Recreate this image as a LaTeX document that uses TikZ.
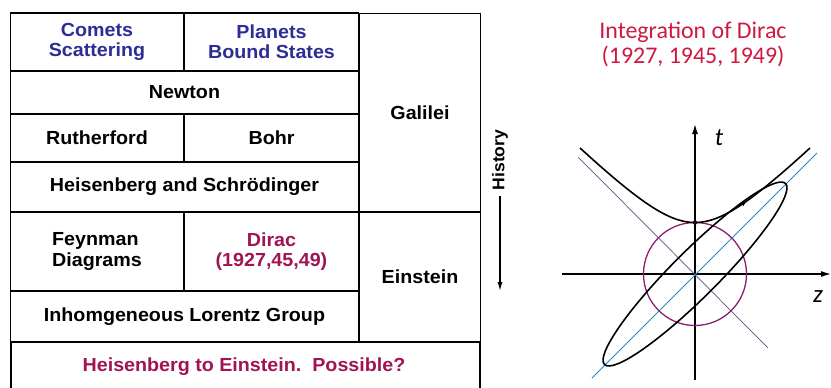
\documentclass[tikz,border=0pt]{standalone}
\usepackage{fontspec}
\setmainfont{Liberation Sans}[FakeStretch=1.04]
\newfontfamily\calfont{Carlito}
\usepackage{tikz}
\usetikzlibrary{arrows.meta,positioning,calc}
\usepackage{xcolor}
\definecolor{cometblue}{RGB}{45,45,150}
\definecolor{diracred}{RGB}{160,20,85}
\definecolor{titlered}{RGB}{205,25,65}
\definecolor{circpurple}{RGB}{140,30,110}
\definecolor{antiline}{RGB}{85,80,140}
\definecolor{diagline}{RGB}{40,140,190}

\begin{document}
\begin{tikzpicture}[
  x=1bp, y=-1bp,
  cell/.style={draw, line width=1.3bp, inner sep=0pt, align=center,
    font=\bfseries\fontsize{19}{20.5}\selectfont},
  axis/.style={-{Latex[length=10bp,width=6bp]}, line width=1.3bp},
  curve/.style={line width=1.6bp},
]
\useasboundingbox (0,0) rectangle (831,387);

% 左側：表
\node[cell, minimum width=174, minimum height=58, text=cometblue] (comets) at (97,42) {Comets\\Scattering};
\node[cell, minimum width=175, minimum height=58, text=cometblue] (planets) at (271.5,42) {Planets\\Bound States};
\node[cell, minimum width=349, minimum height=43] (newton) at (184.5,92.5) {Newton};
\node[cell, minimum width=174, minimum height=48] (rutherford) at (97,138) {Rutherford};
\node[cell, minimum width=175, minimum height=48] (bohr) at (271.5,138) {Bohr};
\node[cell, minimum width=349, minimum height=50] (heisenberg) at (184.5,187) {Heisenberg and Schrödinger};
\node[cell, minimum width=122, minimum height=199] (galilei) at (420,112.5) {Galilei};
\node[cell, minimum width=174, minimum height=79, align=left] (feynman) at (97,251.5) {Feynman\\Diagrams};
\node[cell, minimum width=175, minimum height=79, text=diracred] (dirac) at (271.5,251.5) {Dirac\\(1927,45,49)};
\node[cell, minimum width=349, minimum height=51] (lorentz) at (184.5,316.5) {Inhomgeneous Lorentz Group};
\node[cell, minimum width=122, minimum height=130] (einstein) at (420,277) {Einstein};
\node[cell, minimum width=471, minimum height=60, anchor=north] (last) at (245.5,342) {};
\node[font=\bfseries\fontsize{19}{20.5}\selectfont, text=diracred] (possible) at (244,367) {Heisenberg to Einstein.\ \ Possible?};

% 矢印：History
\node[rotate=90, font=\bfseries\fontsize{17}{18}\selectfont, inner sep=1bp] (history) at (500,160) {History};
\coordinate (histend) at (500,291);
\draw[-{Latex[length=9bp,width=5bp]}, line width=1.2bp] ([yshift=-4bp]history.west) -- (histend);

% 右側：Dirac
\node[font=\calfont\fontsize{24}{25}\selectfont, text=titlered, align=center] (title) at (693,44) {Integration of Dirac\\(1927, 1945, 1949)};

\coordinate (O) at (695,274);
\coordinate (tbot) at (695,380);
\coordinate (ttop) at (695,124);
\coordinate (zleft) at (562,274);
\coordinate (zright) at (831,274);
\draw[axis] (tbot) -- (ttop);
\draw[axis] (zleft) -- (zright);
\node[font=\calfont\itshape\fontsize{25}{26}\selectfont] (tlabel) at (719,138) {t};
\node[font=\calfont\itshape\fontsize{25}{26}\selectfont] (zlabel) at (818,297) {z};

\draw[antiline, line width=0.7bp] (578,157) -- (768,348);
\draw[diagline, line width=0.8bp] (592,378) -- (817,153);
\draw[circpurple, line width=1.3bp] (O) circle [radius=51.5bp];
\draw[curve, rotate around={45:(O)}] (O) ellipse [x radius=128bp, y radius=23bp];
\draw[curve, domain=-115:115, samples=80, smooth]
  plot ({695+\x}, {274-10*sqrt(5.15*5.15+(\x/10)*(\x/10))});
\fill[black!80!circpurple] (695,222.5) circle [radius=2.2bp];
\draw[-{Latex[length=6bp,width=5bp]}, line width=1.2bp] (737,207.6) -- (747,200.9);

\end{tikzpicture}
\end{document}
